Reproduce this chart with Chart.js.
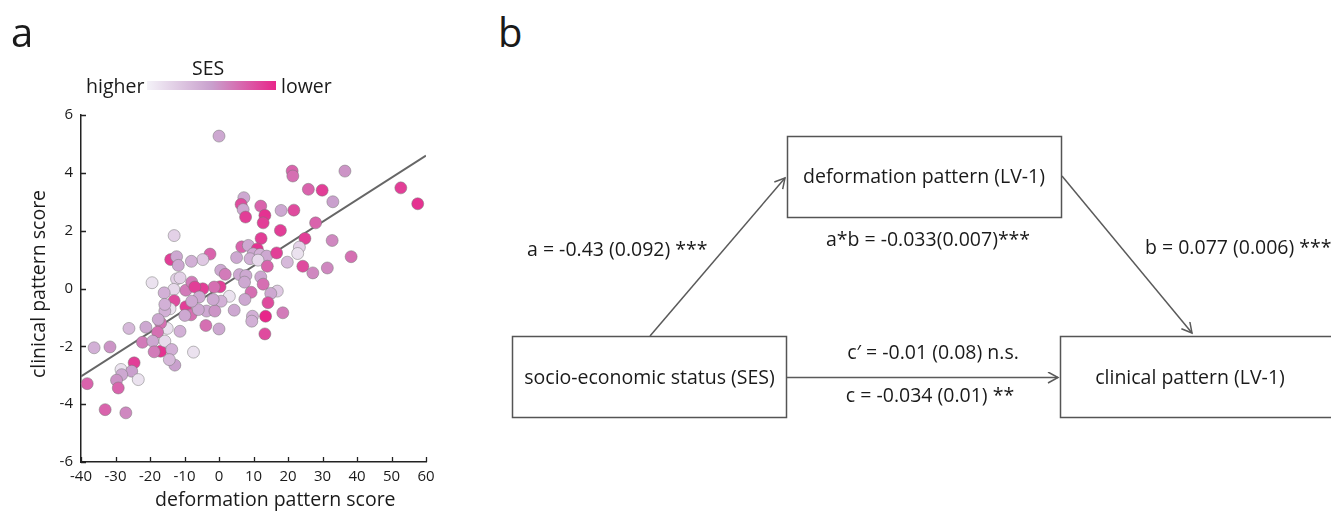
<!DOCTYPE html>
<html>
<head>
<meta charset="utf-8">
<script src="https://cdn.jsdelivr.net/npm/chart.js@4/dist/chart.umd.min.js"></script>
<style>
  html, body { margin: 0; padding: 0; background: #fff; }
  #page { position: relative; width: 1331px; height: 513px; overflow: hidden; font-family: "Open Sans", sans-serif; color: #1a1a1a; }
  #scatter { position: absolute; left: 0; top: 0; }
  .lbl { position: absolute; white-space: nowrap; line-height: 1; }
  .panel { font-size: 40px; }
  .txt { font-size: 19.5px; }
  #cbar { position: absolute; left: 147px; top: 81px; width: 129px; height: 9px; }
  #diagram { position: absolute; left: 0; top: 0; }
</style>
</head>
<body>
<div id="page">
  <canvas id="scatter" width="450" height="513"></canvas>

  <div class="lbl panel" style="left:11px; top:12px;">a</div>
  <div class="lbl panel" style="left:498px; top:12px;">b</div>

  <div class="lbl txt" style="left:192px; top:58px;">SES</div>
  <div class="lbl txt" style="left:86px; top:76px;">higher</div>
  <div id="cbar"></div>
  <div class="lbl txt" style="left:281px; top:76px;">lower</div>

  <div class="lbl txt" id="xTitle" style="left:155px; top:489px;">deformation pattern score</div>
  <div class="lbl txt" id="yTitle" style="left:38px; top:284px; transform: translate(-50%,-50%) rotate(-90deg);">clinical pattern score</div>

  <svg id="diagram" width="1331" height="513" xmlns="http://www.w3.org/2000/svg">
    <defs>
      <marker id="head" markerUnits="userSpaceOnUse" markerWidth="14" markerHeight="14" refX="11" refY="6" orient="auto">
        <path d="M1,0.5 L11,6 L1,11.5" fill="none" stroke="#5a5a5a" stroke-width="1.5"/>
      </marker>
    </defs>
    <g fill="none" stroke="#555" stroke-width="1.5">
      <rect x="787.5" y="136.5" width="274" height="81"/>
      <rect x="512.5" y="336.5" width="274" height="81"/>
      <rect x="1060.5" y="336.5" width="290" height="81"/>
    </g>
    <g stroke="#5a5a5a" stroke-width="1.5" fill="none">
      <line x1="650" y1="336" x2="785" y2="178" marker-end="url(#head)"/>
      <line x1="1062" y1="176" x2="1192" y2="333" marker-end="url(#head)"/>
      <line x1="787" y1="377.5" x2="1058" y2="377.5" marker-end="url(#head)"/>
    </g>
    <g font-family="Open Sans, sans-serif" font-size="19.5" fill="#1a1a1a">
      <text x="924" y="183" text-anchor="middle">deformation pattern (LV-1)</text>
      <text x="649.5" y="384" text-anchor="middle">socio-economic status (SES)</text>
      <text x="1190" y="384" text-anchor="middle">clinical pattern (LV-1)</text>
      <text x="527" y="256">a = -0.43 (0.092) ***</text>
      <text x="928" y="246" text-anchor="middle">a*b = -0.033(0.007)***</text>
      <text x="1145" y="254">b = 0.077 (0.006) ***</text>
      <text x="933" y="359" text-anchor="middle">c′ = -0.01 (0.08) n.s.</text>
      <text x="930" y="402" text-anchor="middle">c = -0.034 (0.01) **</text>
    </g>
  </svg>
</div>

<script>
// Axis ticks
const xTickValues = [-40, -30, -20, -10, 0, 10, 20, 30, 40, 50, 60];
const yTickValues = [-6, -4, -2, 0, 2, 4, 6];

// One entry per participant: deformation score, clinical score, SES shade (0 = higher, 1 = lower)
const deformationScore = [
  21.2, 21.4, 25.9, 29.9, 33.0, 7.2, 6.4, 7.0, 7.7, 12.1,
  13.3, 12.8, 18.0, 21.7, 28.0, 17.8, 12.2, 24.9, 32.8, 6.6,
  8.5, 11.1, 9.9, 11.9, 13.8, 16.7, 23.3, 22.8, -2.6, -4.7,
  5.1, 9.0, 11.3, 19.8, 24.3, 27.2, 31.4, 14.0, 0.5, 1.8,
  5.9, 7.8, 7.4, 12.1, 12.8, 16.9, 15.0, 9.3, 14.2, 7.5,
  18.5, 13.5, 9.7, 9.5, 4.4, 13.3, 0.3, 3.0, 0.6, -1.4,
  -4.7, -3.6, -1.2, -3.8, 0.0, 0.0, 36.5, 52.7, 57.6, 38.3,
  -13.0, -14.0, -12.3, -11.8, -8.0, -19.4, -12.3, -13.1, -15.9, -9.6,
  -7.9, -7.0, -13.0, -14.2, -15.7, -9.6, -8.1, -6.0, -9.9, -15.0,
  -11.3, -16.9, -17.8, -21.2, -26.1, -36.2, -31.6, -22.2, -19.2, -16.9,
  -18.8, -15.7, -13.7, -12.8, -14.4, -7.4, -24.6, -28.4, -25.3, -28.2,
  -23.4, -29.7, -29.2, -38.2, -33.0, -27.0, -17.6, -15.7, -5.7, -1.7,
  -7.9, -11.3
];
const clinicalScore = [
  4.06, 3.89, 3.43, 3.40, 3.00, 3.14, 2.91, 2.73, 2.47, 2.85,
  2.53, 2.27, 2.70, 2.71, 2.27, 2.01, 1.73, 1.73, 1.66, 1.44,
  1.49, 1.37, 1.20, 1.18, 1.12, 1.23, 1.43, 1.21, 1.19, 1.00,
  1.07, 1.03, 0.98, 0.91, 0.77, 0.54, 0.71, 0.77, 0.63, 0.49,
  0.48, 0.45, 0.22, 0.40, 0.15, -0.09, -0.17, -0.13, -0.49, -0.38,
  -0.84, -0.96, -0.96, -1.13, -0.75, -1.57, 0.06, -0.27, -0.44, 0.05,
  -0.01, -0.78, -0.78, -1.28, -1.40, 5.27, 4.06, 3.48, 2.93, 1.10,
  1.83, 1.00, 1.10, 0.80, 0.94, 0.20, 0.33, -0.03, -0.15, -0.06,
  0.22, 0.05, -0.42, -0.70, -0.78, -0.63, -0.91, -0.73, -0.93, -1.38,
  -1.48, -1.19, -1.51, -1.34, -1.38, -2.05, -2.02, -1.86, -1.82, -2.17,
  -2.19, -1.82, -2.11, -2.65, -2.46, -2.20, -2.57, -2.80, -2.86, -2.98,
  -3.15, -3.17, -3.44, -3.29, -4.19, -4.30, -1.07, -0.55, -0.29, -0.38,
  -0.44, 0.37
];
const sesLevel = [
  0.75, 0.70, 0.75, 0.90, 0.50, 0.45, 0.85, 0.45, 0.90, 0.75,
  0.95, 0.90, 0.45, 0.85, 0.75, 0.90, 0.90, 0.90, 0.60, 0.75,
  0.45, 0.95, 0.45, 0.40, 0.45, 0.90, 0.20, 0.10, 0.75, 0.25,
  0.45, 0.40, 0.15, 0.35, 0.85, 0.60, 0.60, 0.75, 0.45, 0.65,
  0.45, 0.45, 0.45, 0.45, 0.70, 0.25, 0.45, 0.70, 0.85, 0.45,
  0.65, 1.00, 0.40, 0.40, 0.45, 0.85, 0.90, 0.10, 0.40, 0.70,
  0.90, 0.45, 0.55, 0.70, 0.45, 0.45, 0.55, 0.90, 0.95, 0.70,
  0.20, 0.90, 0.45, 0.45, 0.40, 0.10, 0.20, 0.15, 0.40, 0.65,
  0.65, 0.90, 0.85, 0.10, 0.40, 0.90, 0.70, 0.45, 0.45, 0.10,
  0.40, 0.70, 0.70, 0.45, 0.35, 0.40, 0.55, 0.65, 0.45, 0.95,
  0.65, 0.15, 0.40, 0.50, 0.35, 0.10, 0.90, 0.10, 0.50, 0.45,
  0.10, 0.55, 0.75, 0.75, 0.75, 0.60, 0.45, 0.40, 0.45, 0.45,
  0.45, 0.20
];

// Least-squares line of clinical on deformation score
const fitIntercept = 0.016;
const fitSlope = 0.0764;

// SES colour ramp: higher -> lower
const sesStops = [[0, [244, 242, 248]], [0.5, [201, 160, 205]], [1, [232, 38, 138]]];

function sesColor(t) {
  for (let i = 1; i < sesStops.length; i++) {
    const [t1, c1] = sesStops[i];
    const [t0, c0] = sesStops[i - 1];
    if (t <= t1) {
      const f = (t - t0) / (t1 - t0);
      const c = c0.map((v, k) => Math.round(v + (c1[k] - v) * f));
      return `rgb(${c[0]},${c[1]},${c[2]})`;
    }
  }
  const c = sesStops[sesStops.length - 1][1];
  return `rgb(${c[0]},${c[1]},${c[2]})`;
}

document.getElementById('cbar').style.background =
  'linear-gradient(to right,' + sesStops.map(([t]) => sesColor(t) + ' ' + (t * 100) + '%').join(',') + ')';

const points = deformationScore.map((x, i) => ({ x, y: clinicalScore[i] }));
const pointColors = sesLevel.map(sesColor);
const xMin = xTickValues[0], xMax = xTickValues[xTickValues.length - 1];
const fitLine = [xMin, xMax].map(x => ({ x, y: fitIntercept + fitSlope * x }));

// Tick marks drawn on the inner side of both axes
const innerTicks = {
  id: 'innerTicks',
  afterDraw(chart) {
    const { ctx, chartArea, scales } = chart;
    ctx.save();
    ctx.strokeStyle = '#222';
    ctx.lineWidth = 1.3;
    ctx.beginPath();
    xTickValues.forEach(v => {
      const px = Math.round(scales.x.getPixelForValue(v)) + 0.5;
      ctx.moveTo(px, chartArea.bottom);
      ctx.lineTo(px, chartArea.bottom - 5);
    });
    yTickValues.forEach(v => {
      const py = Math.round(scales.y.getPixelForValue(v)) + 0.5;
      ctx.moveTo(chartArea.left, py);
      ctx.lineTo(chartArea.left + 5, py);
    });
    ctx.stroke();
    ctx.restore();
  }
};

new Chart(document.getElementById('scatter'), {
  type: 'scatter',
  data: {
    datasets: [
      {
        data: points,
        backgroundColor: pointColors,
        borderColor: 'rgba(120,120,120,0.5)',
        borderWidth: 1,
        pointRadius: 6,
        order: 1,
        clip: false
      },
      {
        type: 'line',
        data: fitLine,
        borderColor: '#666',
        borderWidth: 2,
        pointRadius: 0,
        fill: false,
        order: 2
      }
    ]
  },
  options: {
    responsive: false,
    devicePixelRatio: 1,
    animation: false,
    events: [],
    layout: { padding: { top: 115, right: 24, left: 0, bottom: 0 } },
    plugins: { legend: { display: false }, tooltip: { enabled: false } },
    scales: {
      x: {
        type: 'linear',
        min: xMin,
        max: xMax,
        afterFit(scale) { scale.height = 51; },
        afterBuildTicks(scale) { scale.ticks = xTickValues.map(v => ({ value: v })); },
        grid: { display: false, drawTicks: false },
        border: { display: true, color: '#222', width: 1.5 },
        ticks: { padding: 6, color: '#1a1a1a', font: { family: 'Open Sans', size: 15 }, maxRotation: 0 }
      },
      y: {
        type: 'linear',
        min: yTickValues[0],
        max: yTickValues[yTickValues.length - 1],
        afterFit(scale) { scale.width = 81; },
        afterBuildTicks(scale) { scale.ticks = yTickValues.map(v => ({ value: v })); },
        grid: { display: false, drawTicks: false },
        border: { display: true, color: '#222', width: 1.5 },
        ticks: { padding: 8, color: '#1a1a1a', font: { family: 'Open Sans', size: 15 } }
      }
    }
  },
  plugins: [innerTicks]
});
</script>
</body>
</html>
